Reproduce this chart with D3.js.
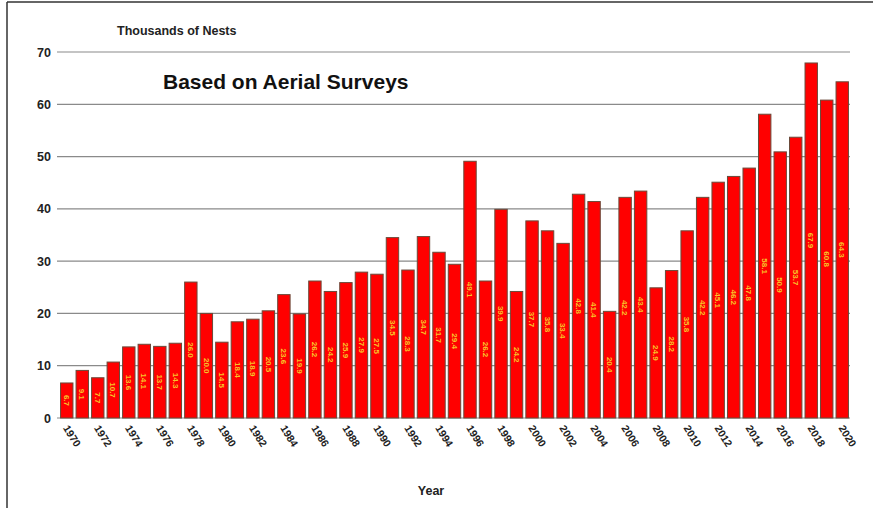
<!DOCTYPE html>
<html>
<head>
<meta charset="utf-8">
<script src="https://cdn.jsdelivr.net/npm/d3@7/dist/d3.min.js"></script>
<style>
  html, body { margin: 0; padding: 0; background: #fff; }
  svg { display: block; font-family: "Liberation Sans", Arial, sans-serif; }
</style>
</head>
<body>
<svg id="chart" width="873" height="508"></svg>
<script>
// Annual nest counts (thousands), aerial surveys 1970–2020
const years = d3.range(1970, 2021);
const nests = [
  6.7, 9.1, 7.7, 10.7, 13.6, 14.1, 13.7, 14.3, 26.0, 20.0,
  14.5, 18.4, 18.9, 20.5, 23.6, 19.9, 26.2, 24.2, 25.9, 27.9,
  27.5, 34.5, 28.3, 34.7, 31.7, 29.4, 49.1, 26.2, 39.9, 24.2,
  37.7, 35.8, 33.4, 42.8, 41.4, 20.4, 42.2, 43.4, 24.9, 28.2,
  35.8, 42.2, 45.1, 46.2, 47.8, 58.1, 50.9, 53.7, 67.9, 60.8,
  64.3
];
const yTicks = [0, 10, 20, 30, 40, 50, 60, 70];
const xTickYears = years.filter(y => y % 2 === 0);

const svg = d3.select("#chart");
const plotLeft = 58, plotRight = 850, plotTop = 52, plotBottom = 418;

const x = d3.scaleBand().domain(years).range([plotLeft + 1, plotRight]).paddingInner(0.2).paddingOuter(0.1);
const y = d3.scaleLinear().domain([0, 70]).range([plotBottom, plotTop]);

// frame
svg.append("line").attr("x1", 7).attr("x2", 7).attr("y1", 2).attr("y2", 508)
  .attr("stroke", "#333").attr("stroke-width", 1.5);
svg.append("line").attr("x1", 7).attr("x2", 873).attr("y1", 2).attr("y2", 2)
  .attr("stroke", "#333").attr("stroke-width", 1.5);

// gridlines
svg.append("g").selectAll("line").data(yTicks).join("line")
  .attr("x1", plotLeft - 1).attr("x2", plotRight)
  .attr("y1", d => y(d)).attr("y2", d => y(d))
  .attr("stroke", "#8a8a8a").attr("stroke-width", 1.2);

// y axis
const yAxis = svg.append("g").attr("transform", `translate(${plotLeft - 1},0)`)
  .call(d3.axisLeft(y).tickValues(yTicks).tickSize(0).tickPadding(6));
yAxis.select(".domain").remove();
yAxis.selectAll("text").attr("font-size", 12.5).attr("font-weight", "bold").attr("fill", "#222")
  .attr("font-family", "Liberation Sans, Arial, sans-serif");

// bars
svg.append("g").selectAll("rect").data(years).join("rect")
  .attr("x", d => x(d))
  .attr("width", x.bandwidth())
  .attr("y", (d, i) => y(nests[i]))
  .attr("height", (d, i) => y(0) - y(nests[i]))
  .attr("fill", "#ff0000")
  .attr("stroke", "#6a4a3a").attr("stroke-width", 1);

// value labels inside bars
svg.append("g").selectAll("text").data(years).join("text")
  .attr("transform", (d, i) => {
    const cx = x(d) + x.bandwidth() / 2;
    const cy = (y(nests[i]) + y(0)) / 2;
    return `translate(${cx},${cy}) rotate(90)`;
  })
  .attr("text-anchor", "middle").attr("dy", "0.35em")
  .attr("font-size", 8).attr("font-weight", "bold").attr("fill", "#f7c52a")
  .text((d, i) => nests[i].toFixed(1));

// x axis tick labels
const xAxis = svg.append("g").attr("transform", `translate(0,${plotBottom})`)
  .call(d3.axisBottom(x).tickValues(xTickYears).tickSize(0).tickPadding(0));
xAxis.select(".domain").remove();
xAxis.selectAll("text")
  .attr("font-size", 10.5).attr("font-weight", "bold").attr("fill", "#222")
  .attr("font-family", "Liberation Sans, Arial, sans-serif")
  .attr("text-anchor", "start")
  .attr("dy", null).attr("y", 0)
  .attr("transform", "translate(-4,10) rotate(58)");

// titles
svg.append("text").attr("x", 117).attr("y", 35)
  .attr("font-size", 12.5).attr("font-weight", "bold").attr("fill", "#222")
  .text("Thousands of Nests");
svg.append("text").attr("x", 163).attr("y", 89)
  .attr("font-size", 21).attr("font-weight", "bold").attr("fill", "#111")
  .text("Based on Aerial Surveys");
svg.append("text").attr("x", 431).attr("y", 495).attr("text-anchor", "middle")
  .attr("font-size", 12.5).attr("font-weight", "bold").attr("fill", "#222")
  .text("Year");
</script>
</body>
</html>
